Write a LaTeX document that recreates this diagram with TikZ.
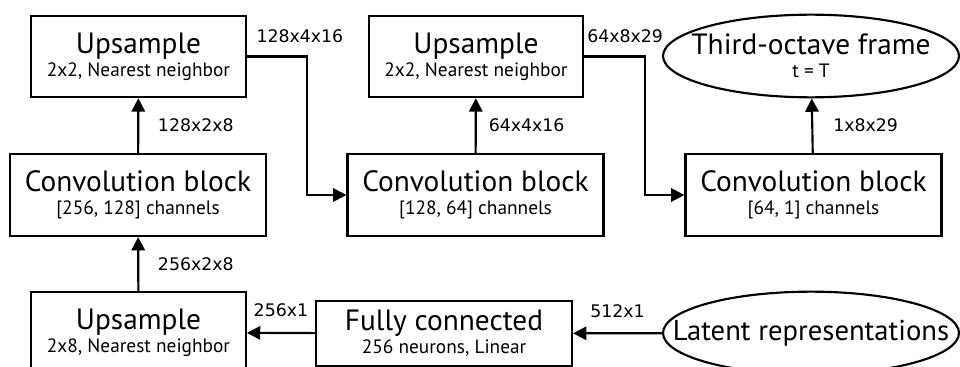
\documentclass[tikz,border=0pt]{standalone}
\usepackage{fontspec}
\setmainfont{PT Sans}
\newfontfamily\dimfont{DejaVu Sans}
\usetikzlibrary{shapes.geometric,arrows.meta,positioning}

\newcommand{\bigtxt}{\fontsize{22}{24}\selectfont}
\newcommand{\smalltxt}{\fontsize{14.5}{17.5}\selectfont}

\tikzset{
  layer/.style={draw,line width=1.6pt,align=center,inner sep=0pt,font=\smalltxt},
  upbox/.style={layer,minimum width=161pt,minimum height=61pt},
  convbox/.style={layer,minimum width=192pt,minimum height=61.5pt},
  fcbox/.style={layer,minimum width=192pt,minimum height=49pt},
  blob/.style={draw,line width=1.6pt,ellipse,inner sep=0pt,minimum width=222pt,minimum height=62pt},
  blobtext/.style={align=center,inner sep=0pt,font=\smalltxt},
  arr/.style={line width=1.6pt,-{Triangle[length=10pt,width=10pt]}},
  dimlabel/.style={font=\dimfont\fontsize{13}{15}\selectfont,inner sep=0pt}
}

\begin{document}
\begin{tikzpicture}[x=0.75pt,y=-0.75pt]
\useasboundingbox (0,0) rectangle (960,367);
\clip (0,0) rectangle (960,367);% bottom row runs off the page

% top row
\node[upbox] (ups1) at (138.5,56.5) {{\bigtxt Upsample}\\2x2, Nearest neighbor};
\node[upbox] (ups2) at (476,56.5) {{\bigtxt Upsample}\\2x2, Nearest neighbor};
\node[blob] (frame) at (811,56) {};
\node[blobtext] (frametxt) at (frame.center) {{\bigtxt Third-octave frame}\\t = T};

% middle row
\node[convbox] (conv1) at (138,195) {{\bigtxt Convolution block}\\{[256, 128]} channels};
\node[convbox] (conv2) at (475.5,195) {{\bigtxt Convolution block}\\{[128, 64]} channels};
\node[convbox] (conv3) at (813.5,195) {{\bigtxt Convolution block}\\{[64, 1]} channels};

% bottom row
\node[upbox] (ups3) at (138.5,332.5) {{\bigtxt Upsample}\\2x8, Nearest neighbor};
\node[fcbox] (fc) at (444,333.5) {{\bigtxt Fully connected}\\256 neurons, Linear};
\node[blob] (latent) at (811,333) {};
\node[blobtext] (latenttxt) at (latent.center) {\fontsize{21.5}{24}\selectfont Latent representations};

\coordinate (k1) at (307,56.5);
\coordinate (k2) at (645,56.5);

\draw[arr] (latent) -- node[dimlabel,above=11pt] {512x1} (fc);
\draw[arr] (fc) -- node[dimlabel,above=11pt] {256x1} (ups3);
\draw[arr] (ups3) -- node[dimlabel,right=14pt] {256x2x8} (conv1);
\draw[arr] (conv1) -- node[dimlabel,right=14pt] {128x2x8} (ups1);
\draw[arr] (ups1.east) -- (k1) |- (conv2.west);
\node[dimlabel,anchor=south west] (l1) at ([xshift=7pt,yshift=10pt]ups1.east) {128x4x16};
\draw[arr] (conv2) -- node[dimlabel,right=9pt] {64x4x16} (ups2);
\draw[arr] (ups2.east) -- (k2) |- (conv3.west);
\node[dimlabel,anchor=south west] (l2) at ([xshift=2pt,yshift=10pt]ups2.east) {64x8x29};
\draw[arr] (conv3) -- node[dimlabel,right=15pt] {1x8x29} (frame);
\end{tikzpicture}
\end{document}
